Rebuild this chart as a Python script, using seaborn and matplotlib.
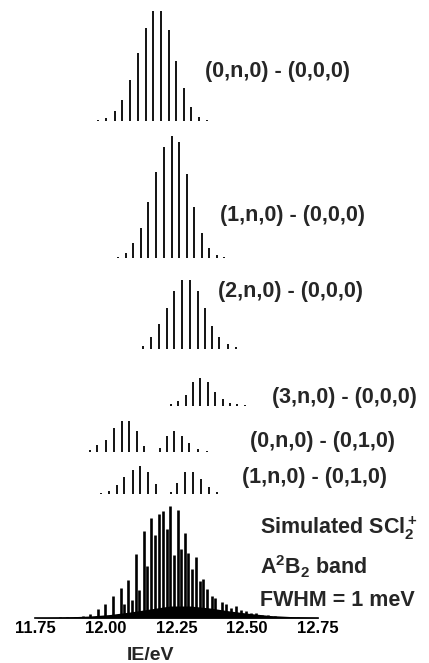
import numpy as np
import pandas as pd
import matplotlib
matplotlib.use("Agg")
import matplotlib.pyplot as plt
import seaborn as sns

# Style: plain white, bold Helvetica-like text
sns.set_theme(style="white")
plt.rcParams['font.family'] = ['Liberation Sans', 'DejaVu Sans']
plt.rcParams['font.weight'] = 'bold'
plt.rcParams['mathtext.fontset'] = 'custom'
plt.rcParams['mathtext.rm'] = 'Liberation Sans:bold'
plt.rcParams['mathtext.it'] = 'Liberation Sans:bold'
plt.rcParams['mathtext.bf'] = 'Liberation Sans:bold'

# ---- data: stick positions (IE / eV) and relative intensities ----
p1_ie = [11.973, 12.000, 12.031, 12.058, 12.085, 12.113, 12.142, 12.168, 12.195,
         12.222, 12.248, 12.276, 12.301, 12.330, 12.357]
p1_int = [1, 3, 10, 21, 41, 68, 93, 110, 110, 91, 60, 33, 14, 4, 1]

p2_ie = [12.043, 12.070, 12.097, 12.124, 12.150, 12.177, 12.205, 12.233, 12.260,
         12.286, 12.312, 12.339, 12.365, 12.392, 12.419]
p2_int = [1.5, 5, 15, 30, 56, 86, 111, 122, 116, 84, 51, 25, 10, 3, 1]

p3_ie = [12.132, 12.160, 12.188, 12.215, 12.242, 12.268, 12.298, 12.325, 12.351,
         12.377, 12.402, 12.432, 12.461]
p3_int = [3, 12, 25, 41, 58, 69, 69, 58, 41, 23, 12, 5, 2]

p4_ie = [12.230, 12.256, 12.283, 12.309, 12.335, 12.362, 12.388, 12.414, 12.440,
         12.466, 12.493]
p4_int = [2.5, 5, 11, 24, 28, 24, 14, 7, 3.5, 1.7, 1]

p5_ie = [11.943, 11.969, 11.999, 12.028, 12.056, 12.083, 12.109, 12.136, 12.191,
         12.215, 12.242, 12.271, 12.295, 12.327, 12.357]
p5_int = [2.3, 7.3, 12.3, 24, 30.7, 30.7, 20.7, 5.7, 4, 15.7, 20.7, 16.3, 9, 3, 0.7]

p6_ie = [11.982, 12.011, 12.038, 12.065, 12.094, 12.121, 12.148, 12.176, 12.229,
         12.253, 12.281, 12.310, 12.337, 12.366, 12.394]
p6_int = [0.8, 3, 8.3, 16.3, 24, 27.5, 21.7, 9.5, 1.2, 10.8, 21.7, 22, 15, 6.2, 1.7]

sim_ie = [11.819, 11.837, 11.861, 11.890, 11.917, 11.943, 11.971, 11.998, 12.026,
          12.052, 12.065, 12.079, 12.092, 12.106, 12.118, 12.135, 12.144, 12.161,
          12.174, 12.188, 12.203, 12.215, 12.227, 12.241, 12.254, 12.266, 12.280,
          12.292, 12.306, 12.319, 12.333, 12.345, 12.357, 12.375, 12.387, 12.410,
          12.426, 12.443, 12.461, 12.479, 12.496, 12.514, 12.532, 12.553, 12.574,
          12.599, 12.624, 12.652, 12.681, 12.709]
sim_int = [0.5, 1, 1, 1.5, 2, 4, 9, 14, 22, 30, 14, 38, 18, 64, 28, 87, 52, 100,
           83, 104, 107, 89, 112, 63, 108, 69, 85, 65, 49, 61, 37, 39, 29, 22, 20,
           16, 14, 10, 12, 8, 7, 5, 5, 3, 3, 2, 1.5, 1, 0.7, 0.5]

# unresolved foot of the simulated band
foot_ie = [11.752, 11.837, 11.943, 12.014, 12.085, 12.156, 12.227, 12.298, 12.369,
           12.440, 12.511, 12.582, 12.652, 12.752]
foot_int = [0.3, 0.8, 2, 3.5, 6, 9, 12, 12, 10, 7, 4.5, 2.5, 1.5, 0.5]

tick_vals = [11.75, 12.00, 12.25, 12.50, 12.75]
tick_labels = ["11.75", "12.00", "12.25", "12.50", "12.75"]

labels = ["(0,n,0) - (0,0,0)", "(1,n,0) - (0,0,0)", "(2,n,0) - (0,0,0)",
          "(3,n,0) - (0,0,0)", "(0,n,0) - (0,1,0)", "(1,n,0) - (0,1,0)"]
sim_text = [r"Simulated SCl$_2^+$", r"A$^2$B$_2$ band", "FWHM = 1 meV"]

# ---- layout (figure pixels) ----
W, H = 429, 663
AXIS_Y = 618          # pixel row of the energy axis
baselines_px = [121, 258, 349, 406, 452, 493.5]
label_pos_px = [(205, 72), (220, 215), (218, 292), (272, 397), (250, 441), (242, 478)]
sim_text_px = [(260, 528), (260, 567), (260, 600)]

fig = plt.figure(figsize=(W / 100, H / 100), dpi=100)
ax = fig.add_axes([0, (H - AXIS_Y) / H, 1, AXIS_Y / H])
px_per_ev = 282
ax.set_xlim(11.75 - 35.5 / px_per_ev, 11.75 + (W - 35.5) / px_per_ev)
ax.set_ylim(0, AXIS_Y)

# stick progressions, stacked
rows = []
for k, (ie, it) in enumerate([(p1_ie, p1_int), (p2_ie, p2_int), (p3_ie, p3_int),
                              (p4_ie, p4_int), (p5_ie, p5_int), (p6_ie, p6_int)]):
    rows.append(pd.DataFrame({"ie": ie, "int": it, "band": labels[k]}))
sticks = pd.concat(rows, ignore_index=True)

for k, lab in enumerate(labels):
    d = sticks[sticks["band"] == lab]
    y0 = AXIS_Y - baselines_px[k]
    ax.vlines(d["ie"], y0, y0 + d["int"], color="black", lw=1.3)
    fig.text(label_pos_px[k][0] / W, 1 - label_pos_px[k][1] / H, lab,
             fontsize=15.5, fontweight="bold", ha="left", va="center")

# simulated band
ax.fill_between(foot_ie, 0, foot_int, color="black", lw=0)
ax.vlines(sim_ie, 0, sim_int, color="black", lw=1.9)
for (tx, ty), s in zip(sim_text_px, sim_text):
    fig.text(tx / W, 1 - ty / H, s, fontsize=15.5, fontweight="bold",
             ha="left", va="center")

# axis
sns.despine(ax=ax, left=True, top=True, right=True)
ax.spines["bottom"].set_bounds(11.75, 12.75)
ax.spines["bottom"].set_color("black")
ax.spines["bottom"].set_linewidth(1.2)
ax.set_yticks([])
ax.set_xticks(tick_vals)
ax.set_xticklabels(tick_labels, fontsize=12, fontweight="bold")
ax.tick_params(axis="x", length=0, pad=2.5, colors="black")
ax.grid(False)
fig.text(150 / W, 1 - 655 / H, "IE/eV",
         fontsize=14, fontweight="bold", ha="center", va="center")

fig.savefig("out.png", dpi=100, facecolor="white")
